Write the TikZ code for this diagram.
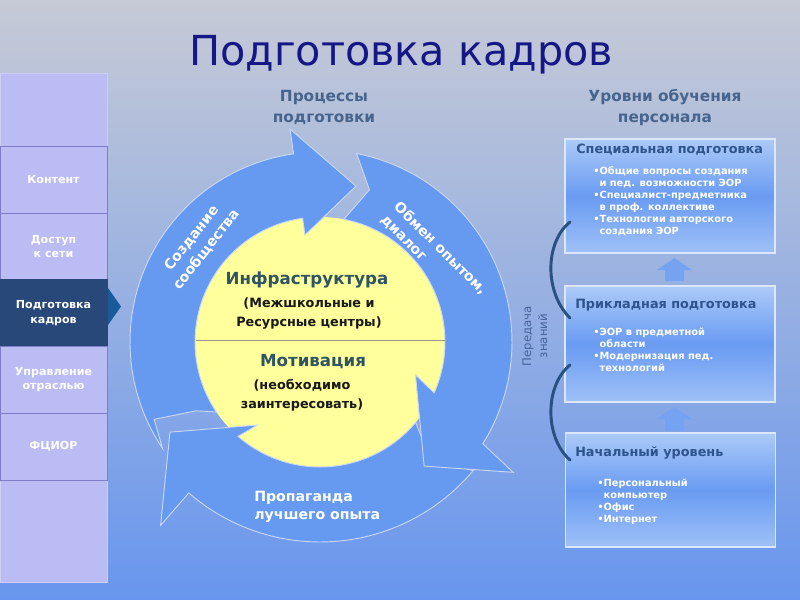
\documentclass[tikz,border=0pt]{standalone}
\usepackage{fontspec}
\setmainfont{DejaVu Sans}
\definecolor{bgtop}{RGB}{198,202,214}
\definecolor{bgbot}{RGB}{104,150,238}
\definecolor{titleblue}{RGB}{22,22,135}
\definecolor{arrowblue}{RGB}{102,153,240}
\definecolor{ringline}{RGB}{200,215,245}
\definecolor{yel}{RGB}{255,255,155}
\definecolor{tealtxt}{RGB}{47,85,100}
\definecolor{hdrgrey}{RGB}{70,100,140}
\definecolor{lav}{RGB}{188,188,245}
\definecolor{lavedge}{RGB}{205,205,248}
\definecolor{lavline}{RGB}{125,125,200}
\definecolor{navybox}{RGB}{40,72,122}
\definecolor{pointer}{RGB}{25,90,155}
\definecolor{boxtitle}{RGB}{45,85,140}
\definecolor{boxlight}{RGB}{172,202,248}
\definecolor{boxmid}{RGB}{105,155,242}
\definecolor{boxedge}{RGB}{220,232,250}
\definecolor{bracecol}{RGB}{40,80,128}
\definecolor{perecol}{RGB}{70,100,155}
\definecolor{divcol}{RGB}{150,150,140}
\begin{document}
\begin{tikzpicture}[x=0.75pt,y=-0.75pt,
  lbox/.style={draw=lavline, fill=lav, minimum width=80.25pt, minimum height=50pt, inner sep=0pt, align=center, text=white, font=\bfseries\fontsize{8.3}{11}\selectfont},
  arr/.style={fill=arrowblue, draw=ringline, line width=0.7pt, line join=miter},
  ringtxt/.style={text=white, font=\bfseries\fontsize{10.6}{14}\selectfont, align=center, inner sep=0pt},
  yhead/.style={text=tealtxt, font=\bfseries\fontsize{12.5}{15}\selectfont, inner sep=0pt},
  ysub/.style={text=black!90, font=\bfseries\fontsize{9.6}{14}\selectfont, align=center, inner sep=0pt},
  hdr/.style={text=hdrgrey, font=\bfseries\fontsize{11.5}{15.75}\selectfont, align=center, inner sep=0pt},
  lvl/.style={draw=boxedge, line width=1.3pt, top color=boxlight, bottom color=boxlight!80!boxmid, middle color=boxmid, minimum width=157.5pt, inner sep=0pt},
  bttl/.style={text=boxtitle, font=\bfseries\fontsize{9.6}{11}\selectfont, inner sep=0pt},
  bul/.style={text=white, font=\bfseries\fontsize{7.4}{9}\selectfont, align=left, inner sep=0pt, anchor=north west},
  uparr/.style={fill=arrowblue!90!white},
  brace/.style={draw=bracecol, line width=2.2pt, line cap=round},
  pered/.style={text=perecol, font=\fontsize{8.8}{12}\selectfont, align=center, inner sep=0pt}
]
\useasboundingbox (0,0) rectangle (800,600);
\shade[top color=bgtop, bottom color=bgbot] (0,0) rectangle (800,600);

% title
\node[text=titleblue, font=\fontsize{31}{37}\selectfont, inner sep=0pt] (title) at (401,55) {Подготовка кадров};

% left column
\draw[draw=lavedge, fill=lav] (0,73) rectangle (107,582);
\node[lbox] (n1) at (53.5,180) {Контент};
\node[lbox] (n2) at (53.5,246.5) {Доступ\\к сети};
\node[lbox, fill=navybox, draw=navybox] (n3) at (53.5,313) {Подготовка\\кадров};
\node[lbox] (n4) at (53.5,379.5) {Управление\\отраслью};
\node[lbox] (n5) at (53.5,446.5) {ФЦИОР};
\fill[pointer] (108,288) -- (121,306.5) -- (108,325) -- cycle;

% cycle
\begin{scope}[shift={(320,342)}, yscale=-1]
  \fill[yel] (0,0) circle (125);
  % arrow 1: community building (left, up to top)
  \filldraw[arr] plot[domain=214:98, samples=50] (\x:190) -- (98:215) -- (77:160) -- (98:108)
     -- plot[domain=98:214, samples=50] (\x:125) -- (209:142) -- (205:183) -- cycle;
  % arrow 3: best practice (bottom, to the left)
  \filldraw[arr] plot[domain=-40:-131, samples=50] (\x:200) -- (-131:243) -- (-149:175) -- (-127:104)
     -- (-131:125) -- plot[domain=-131:-40, samples=50] (\x:125) -- (-47:162) -- cycle;
  % arrow 2: exchange (right, down)
  \filldraw[arr] plot[domain=79:-32, samples=50] (\x:192) -- (-34:233) -- (-50:162) -- (-19:101)
     -- (-24:125) -- plot[domain=-24:79, samples=50] (\x:125) -- (72:160) -- cycle;
\end{scope}
\draw[divcol, line width=0.6pt] (196,340) -- (445,340);

\node[ringtxt, rotate=52] (sozd) at (199,244) {Создание\\сообщества};
\node[ringtxt, rotate=-45, align=left] (obm) at (434,255) {Обмен опытом,\\диалог};
\node[ringtxt, align=left, anchor=west] (prop) at (254,507) {Пропаганда\\лучшего опыта};

\node[yhead] (infra) at (307,280) {Инфраструктура};
\node[ysub] (infras) at (309,313.5) {(Межшкольные и\\Ресурсные центры)};
\node[yhead] (motiv) at (313,362) {Мотивация};
\node[ysub] (motivs) at (302,395) {(необходимо\\заинтересовать)};

% headers
\node[hdr] (proc) at (324,107.5) {Процессы\\подготовки};
\node[hdr] (urov) at (665,108) {Уровни обучения\\персонала};

% level boxes
\node[lvl, minimum height=85.5pt] (b1) at (670,196) {};
\node[lvl, minimum height=87pt] (b2) at (670,344) {};
\node[lvl, minimum height=85.5pt] (b3) at (670.5,490) {};

\node[bttl, anchor=west] (t1) at (576,150) {Специальная подготовка};
\node[bttl, anchor=west] (t2) at (575,305) {Прикладная подготовка};
\node[bttl, anchor=west] (t3) at (575,453) {Начальный уровень};

\node[bul] (l1) at (593,166) {•Общие вопросы создания\\\hphantom{•}и пед. возможности ЭОР\\•Специалист-предметника\\\hphantom{•}в проф. коллективе\\•Технологии авторского\\\hphantom{•}создания ЭОР};
\node[bul] (l2) at (593,328) {•ЭОР в предметной\\\hphantom{•}области\\•Модернизация пед.\\\hphantom{•}технологий};
\node[bul] (l3) at (597,479) {•Персональный\\\hphantom{•}компьютер\\•Офис\\•Интернет};

% up arrows
\fill[uparr] (665,281) -- (665,270) -- (657,270) -- (674.5,258) -- (692,270) -- (684,270) -- (684,281) -- cycle;
\fill[uparr] (665,431) -- (665,419) -- (657,419) -- (674.5,407) -- (692,419) -- (684,419) -- (684,431) -- cycle;

% knowledge transfer
\draw[brace] (570,222) .. controls (545,242) and (544,292) .. (570,318);
\draw[brace] (570,365) .. controls (545,385) and (544,437) .. (570,460);
\node[pered, rotate=90] (per) at (535,336) {Передача\\знаний};
\end{tikzpicture}
\end{document}
